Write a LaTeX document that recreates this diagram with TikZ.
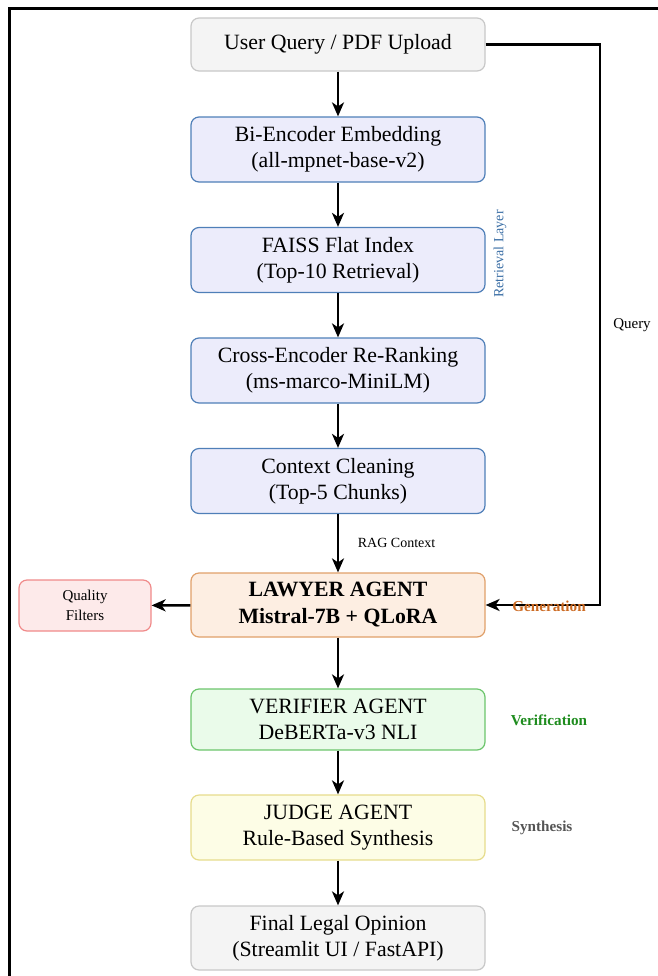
\documentclass[tikz,border=0pt]{standalone}
\usepackage{fontspec}
\setmainfont{Liberation Serif}
\usetikzlibrary{positioning,arrows.meta}

\definecolor{grayfill}{HTML}{F4F4F4}
\definecolor{grayline}{HTML}{C8C8C8}
\definecolor{bluefill}{HTML}{ECECFB}
\definecolor{blueline}{HTML}{4F7FB8}
\definecolor{orangefill}{HTML}{FDEEE2}
\definecolor{orangeline}{HTML}{E0A06A}
\definecolor{redfill}{HTML}{FDEAEA}
\definecolor{redline}{HTML}{F08A8A}
\definecolor{greenfill}{HTML}{EAFBEA}
\definecolor{greenline}{HTML}{6CC56C}
\definecolor{yellowfill}{HTML}{FDFDE6}
\definecolor{yellowline}{HTML}{E6DC8C}
\definecolor{retrtext}{HTML}{3A6EA5}
\definecolor{gentext}{HTML}{CC6A22}
\definecolor{vertext}{HTML}{1E8C1E}
\definecolor{syntext}{HTML}{555555}

\tikzset{
  box/.style={draw, rounded corners=4pt, minimum width=147pt, minimum height=32.5pt,
    align=center, line width=0.6pt, font=\fontsize{10.9}{13}\selectfont},
  graybox/.style={box, fill=grayfill, draw=grayline},
  bluebox/.style={box, fill=bluefill, draw=blueline},
  flow/.style={-{Stealth[length=7pt,width=6pt,inset=2pt]}, line width=1.2pt},
  small/.style={font=\fontsize{7}{9}\selectfont},
  phase/.style={font=\fontsize{7.6}{9}\selectfont\bfseries}
}

\begin{document}
\begin{tikzpicture}[x=0.5pt,y=-0.5pt]
\useasboundingbox (0,0) rectangle (658,976);

\draw[line width=1.5pt] (9,976) -- (9,8) -- (658,8);

\node[graybox, minimum height=26.5pt] (upload) at (338,44.5) {User Query / PDF Upload};
\node[bluebox] (biencoder) at (338,149.5) {Bi-Encoder Embedding\\(all-mpnet-base-v2)};
\node[bluebox] (faiss) at (338,260) {FAISS Flat Index\\(Top-10 Retrieval)};
\node[bluebox] (crossenc) at (338,370.5) {Cross-Encoder Re-Ranking\\(ms-marco-MiniLM)};
\node[bluebox] (cleaning) at (338,481) {Context Cleaning\\(Top-5 Chunks)};
\node[box, fill=orangefill, draw=orangeline, minimum height=32pt,
  font=\fontsize{10.9}{13.5}\selectfont\bfseries] (lawyer) at (338,605) {LAWYER AGENT\\Mistral-7B + QLoRA};
\node[box, fill=redfill, draw=redline, minimum width=66pt, minimum height=25.5pt,
  font=\fontsize{7.5}{10}\selectfont] (quality) at (85,605.5) {Quality\\Filters};
\node[box, fill=greenfill, draw=greenline, minimum height=30.5pt] (verifier) at (338,719.5) {VERIFIER AGENT\\DeBERTa-v3 NLI};
\node[box, fill=yellowfill, draw=yellowline] (judge) at (338,827.5) {JUDGE AGENT\\Rule-Based Synthesis};
\node[graybox, minimum height=32pt] (final) at (338,938) {Final Legal Opinion\\(Streamlit UI / FastAPI)};

\draw[flow] (upload) -- (biencoder);
\draw[flow] (biencoder) -- (faiss);
\draw[flow] (faiss) -- (crossenc);
\draw[flow] (crossenc) -- (cleaning);
\draw[flow] (cleaning) -- node[right, small, xshift=6pt] (ragctx) {RAG Context} (lawyer);
\draw[flow] (lawyer) -- (quality);
\draw[flow] (lawyer) -- (verifier);
\draw[flow] (verifier) -- (judge);
\draw[flow] (judge) -- (final);

\coordinate (qturn) at (600,44.5);
\draw[flow] (upload.east) -- (qturn) |- (lawyer.east);

\node[small, font=\fontsize{7.5}{9}\selectfont] (querylbl) at (632,325) {Query};
\node[small, text=retrtext, rotate=90] (retrlbl) at (500,254) {Retrieval Layer};
\node[phase, text=gentext] (genlbl) at (549,606) {Generation};
\node[phase, text=vertext] (verlbl) at (549,720) {Verification};
\node[phase, text=syntext] (synlbl) at (542,828) {Synthesis};

\end{tikzpicture}
\end{document}
